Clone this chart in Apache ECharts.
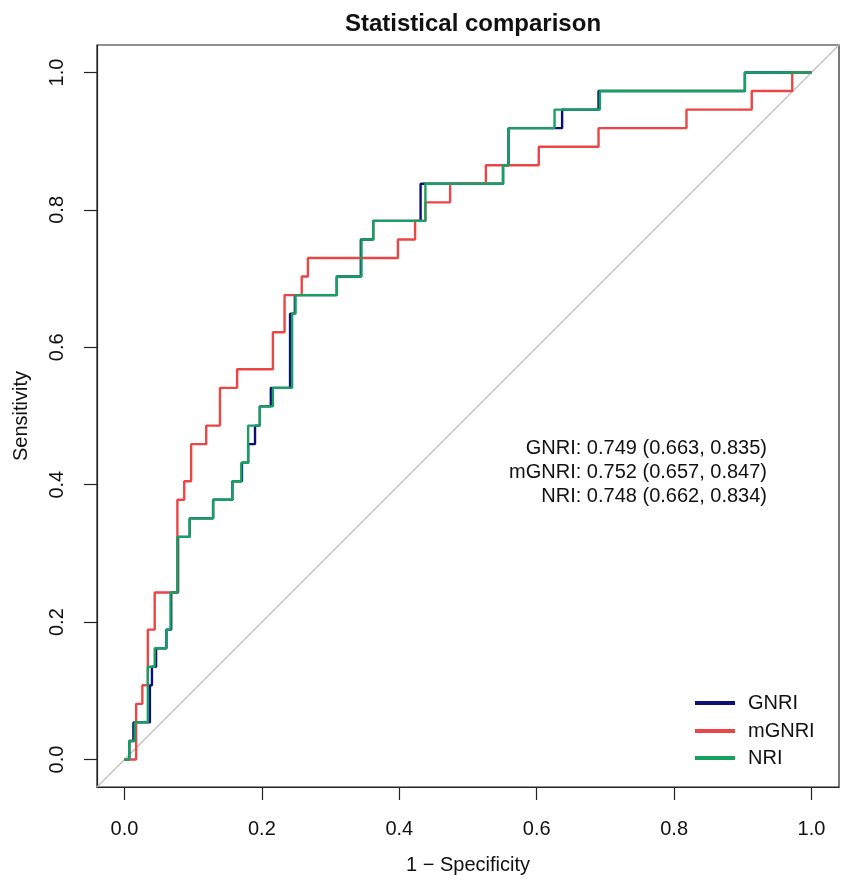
<!DOCTYPE html>
<html>
<head>
<meta charset="utf-8">
<script src="https://cdn.jsdelivr.net/npm/echarts@6/dist/echarts.min.js"></script>
<style>
html,body{margin:0;padding:0;background:#fff;}
#chart{width:851px;height:886px;}
</style>
</head>
<body>
<div id="chart"></div>
<script>
// ---- data ----
const seriesNames = ['GNRI', 'mGNRI', 'NRI'];
const seriesColors = ['#0b0f78', '#ec4545', '#17a160'];

const gnriFpr = [0,0.007,0.013,0.037,0.040,0.046,0.061,0.068,0.078,0.095,0.129,0.157,0.171,0.180,0.190,0.197,0.213,0.241,0.248,0.309,0.344,0.362,0.431,0.551,0.559,0.637,0.690,0.903,1];
const gnriTpr = [0,0.027,0.054,0.108,0.135,0.162,0.189,0.243,0.324,0.351,0.378,0.405,0.432,0.459,0.486,0.514,0.541,0.649,0.676,0.703,0.757,0.784,0.838,0.865,0.919,0.946,0.973,1,1];

const mgnriFpr = [0,0.017,0.026,0.034,0.044,0.077,0.087,0.097,0.119,0.139,0.164,0.216,0.233,0.258,0.267,0.398,0.423,0.438,0.474,0.526,0.603,0.690,0.818,0.913,0.972,1];
const mgnriTpr = [0,0.081,0.108,0.189,0.243,0.378,0.405,0.459,0.486,0.541,0.568,0.622,0.676,0.703,0.730,0.757,0.784,0.811,0.838,0.865,0.892,0.919,0.946,0.973,1,1];

const nriFpr = [0,0.007,0.015,0.034,0.044,0.061,0.067,0.077,0.095,0.129,0.157,0.170,0.180,0.197,0.216,0.244,0.249,0.309,0.345,0.362,0.438,0.551,0.559,0.626,0.692,0.903,1];
const nriTpr = [0,0.027,0.054,0.135,0.162,0.189,0.243,0.324,0.351,0.378,0.405,0.432,0.486,0.514,0.541,0.649,0.676,0.703,0.757,0.784,0.838,0.865,0.919,0.946,0.973,1,1];

const aucLabels = ['GNRI: 0.749 (0.663, 0.835)', 'mGNRI: 0.752 (0.657, 0.847)', 'NRI: 0.748 (0.662, 0.834)'];
const tickValues = [0, 0.2, 0.4, 0.6, 0.8, 1.0];
const axisRange = [-0.04, 1.04];
const chanceLine = [[-0.04, -0.04], [1.04, 1.04]];

// ---- build ----
const FONT = '"Liberation Sans", Arial, Helvetica, sans-serif';
const zip = (xs, ys) => xs.map((x, i) => [x, ys[i]]);
const curves = [zip(gnriFpr, gnriTpr), zip(mgnriFpr, mgnriTpr), zip(nriFpr, nriTpr)];

const chart = echarts.init(document.getElementById('chart'), null, {renderer: 'canvas'});

const axisCommon = {
  type: 'value',
  min: axisRange[0],
  max: axisRange[1],
  splitLine: {show: false},
  axisLine: {show: true, onZero: false, lineStyle: {color: '#222', width: 1.2}},
  axisTick: {show: true, inside: false, length: 13, customValues: tickValues, lineStyle: {color: '#222', width: 1.2}},
  axisLabel: {customValues: tickValues, formatter: v => v.toFixed(1), fontSize: 20, color: '#111', fontFamily: FONT},
  nameLocation: 'middle',
  nameTextStyle: {fontSize: 20, color: '#111', fontFamily: FONT}
};

const legendCenters = [702, 730, 757];

const option = {
  animation: false,
  backgroundColor: '#fff',
  textStyle: {fontFamily: FONT},
  title: {
    text: 'Statistical comparison',
    left: 468,
    top: 7,
    textAlign: 'center',
    textStyle: {fontSize: 24, fontWeight: 'bold', color: '#111', fontFamily: FONT}
  },
  grid: {
    left: 97, right: 12, top: 45, bottom: 99,
    show: true, borderColor: '#222', borderWidth: 1.2, backgroundColor: 'transparent'
  },
  xAxis: Object.assign({}, axisCommon, {
    name: '1 \u2212 Specificity',
    nameGap: 68,
    axisLabel: Object.assign({}, axisCommon.axisLabel, {margin: 32})
  }),
  yAxis: Object.assign({}, axisCommon, {
    name: 'Sensitivity',
    nameGap: 66,
    nameRotate: 90,
    axisLabel: Object.assign({}, axisCommon.axisLabel, {margin: 30, rotate: 90})
  }),
  legend: seriesNames.map((n, i) => ({
    data: [n],
    left: 695,
    top: legendCenters[i] - 9,
    orient: 'vertical',
    padding: 0,
    icon: 'rect',
    itemWidth: 40,
    itemHeight: 4,
    selectedMode: false,
    textStyle: {fontSize: 20, color: '#111', fontFamily: FONT, padding: [0, 0, 0, 8]}
  })),
  graphic: aucLabels.map((t, i) => ({
    type: 'text',
    x: 767,
    y: [448, 472, 496][i],
    style: {text: t, align: 'right', verticalAlign: 'middle', font: '20px ' + FONT, fill: '#111'},
    silent: true
  })),
  series: [
    {
      name: 'chance',
      type: 'line',
      data: chanceLine,
      symbol: 'none',
      silent: true,
      lineStyle: {color: '#bdbdbd', width: 1.3},
      z: 1
    }
  ].concat(seriesNames.map((n, i) => ({
    name: n,
    type: 'line',
    step: 'end',
    data: curves[i],
    symbol: 'none',
    showSymbol: false,
    color: seriesColors[i],
    lineStyle: {color: seriesColors[i], width: 2.4},
    z: 2 + i
  })))
};

chart.setOption(option);
</script>
</body>
</html>
